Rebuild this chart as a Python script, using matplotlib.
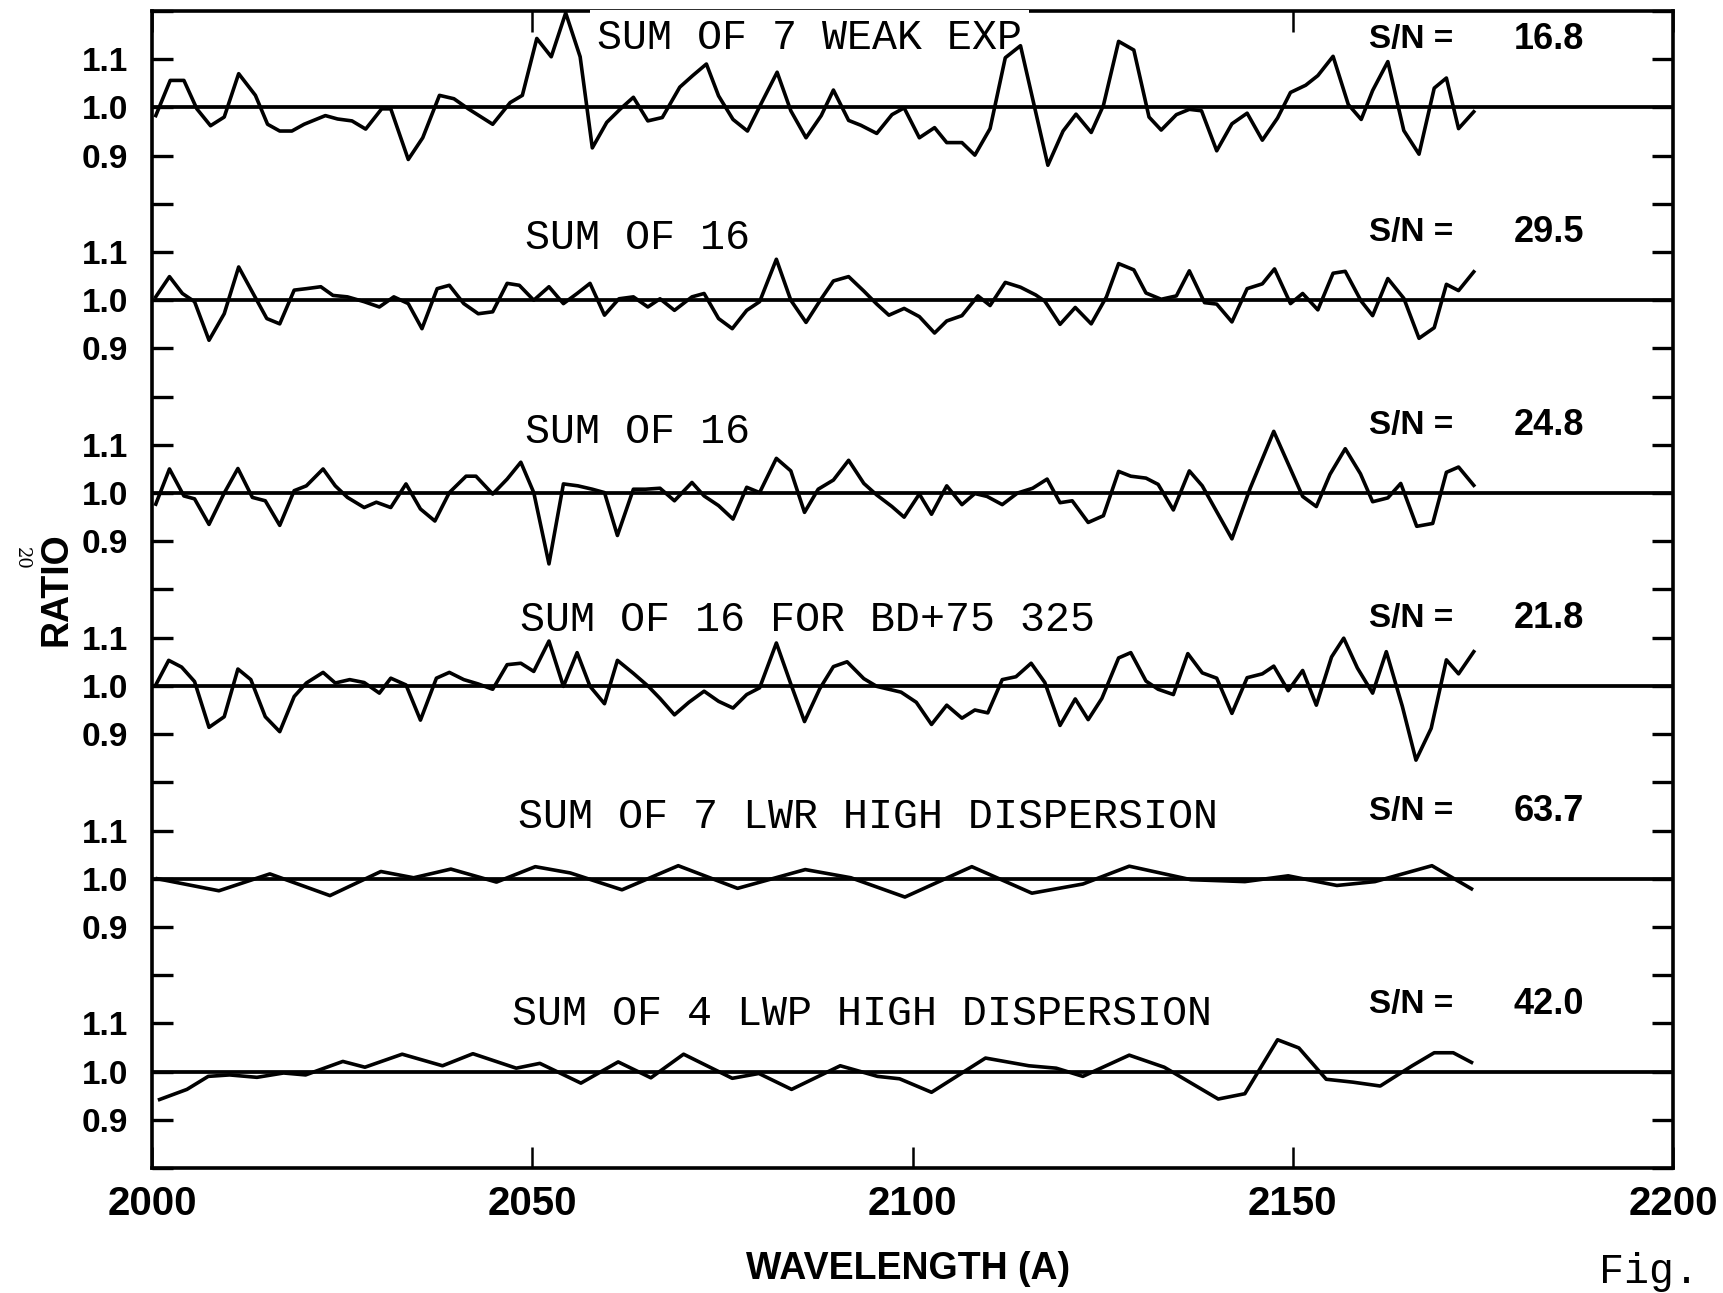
import matplotlib.pyplot as plt
import numpy as np

# six co-added spectra, top panel first; ratio values
WL_1 = [2000.5, 2002.4, 2004.2, 2005.9, 2007.7, 2009.5, 2011.4, 2013.6, 2015.2, 2016.8,
        2018.4, 2020.0, 2022.8, 2024.4, 2026.3, 2028.1, 2030.2, 2031.4, 2033.7, 2035.6,
        2037.8, 2039.7, 2041.6, 2044.8, 2047.1, 2048.7, 2050.6, 2052.5, 2054.4, 2056.3,
        2057.9, 2059.8, 2061.6, 2063.3, 2065.2, 2067.1, 2069.4, 2071.1, 2072.9, 2074.5,
        2076.4, 2078.3, 2080.1, 2082.2, 2084.0, 2086.0, 2088.0, 2089.6, 2091.6, 2093.2,
        2095.3, 2097.3, 2098.9, 2100.9, 2102.9, 2104.5, 2106.5, 2108.2, 2110.2, 2112.2,
        2114.2, 2117.8, 2119.8, 2121.5, 2123.5, 2125.1, 2127.1, 2129.1, 2131.1, 2132.7,
        2134.7, 2136.4, 2138.0, 2140.0, 2142.0, 2144.0, 2146.0, 2148.0, 2149.7, 2151.7,
        2153.3, 2155.3, 2157.3, 2159.0, 2160.5, 2162.5, 2164.6, 2166.6, 2168.6, 2170.2,
        2171.8, 2173.8]
RATIO_1 = [0.983, 1.056, 1.056, 0.997, 0.962, 0.980, 1.070, 1.025, 0.965, 0.951,
           0.951, 0.965, 0.983, 0.976, 0.972, 0.955, 0.997, 0.997, 0.892, 0.937,
           1.025, 1.018, 0.997, 0.965, 1.010, 1.025, 1.143, 1.105, 1.196, 1.105,
           0.916, 0.969, 0.997, 1.021, 0.972, 0.979, 1.042, 1.066, 1.090, 1.024,
           0.975, 0.951, 1.008, 1.073, 0.993, 0.937, 0.983, 1.036, 0.973, 0.963,
           0.946, 0.985, 0.999, 0.937, 0.958, 0.927, 0.927, 0.901, 0.956, 1.103,
           1.128, 0.880, 0.951, 0.986, 0.948, 1.004, 1.137, 1.119, 0.980, 0.953,
           0.985, 0.996, 0.993, 0.910, 0.966, 0.988, 0.932, 0.978, 1.031, 1.046,
           1.066, 1.106, 1.006, 0.975, 1.035, 1.095, 0.952, 0.903, 1.040, 1.061,
           0.956, 0.991]

WL_2 = [2000.5, 2002.3, 2004.0, 2005.6, 2007.5, 2009.5, 2011.4, 2013.3, 2015.1, 2016.8,
        2018.7, 2020.3, 2022.2, 2023.8, 2025.7, 2027.9, 2029.9, 2031.8, 2033.7, 2035.5,
        2037.5, 2039.1, 2041.0, 2042.9, 2044.8, 2046.7, 2048.3, 2050.2, 2052.2, 2054.1,
        2055.9, 2057.6, 2059.5, 2061.4, 2063.3, 2065.2, 2066.8, 2068.7, 2071.0, 2072.6,
        2074.5, 2076.3, 2078.2, 2079.9, 2082.1, 2084.0, 2086.0, 2088.0, 2089.6, 2091.6,
        2093.6, 2095.3, 2096.9, 2098.9, 2100.9, 2102.9, 2104.5, 2106.5, 2108.6, 2110.2,
        2112.2, 2114.2, 2116.2, 2117.4, 2119.4, 2121.4, 2123.5, 2125.5, 2127.1, 2129.1,
        2130.7, 2132.7, 2134.7, 2136.4, 2138.4, 2140.0, 2142.0, 2144.0, 2146.0, 2147.6,
        2149.7, 2151.3, 2153.3, 2155.3, 2156.9, 2159.0, 2160.5, 2162.5, 2164.6, 2166.6,
        2168.6, 2170.2, 2171.8, 2173.8]
RATIO_2 = [1.007, 1.049, 1.014, 0.997, 0.917, 0.972, 1.069, 1.014, 0.962, 0.951,
           1.021, 1.024, 1.028, 1.010, 1.007, 0.997, 0.986, 1.007, 0.993, 0.941,
           1.024, 1.031, 0.993, 0.972, 0.976, 1.035, 1.031, 1.000, 1.028, 0.993,
           1.014, 1.035, 0.969, 1.003, 1.007, 0.986, 1.003, 0.979, 1.007, 1.014,
           0.962, 0.941, 0.979, 0.997, 1.085, 1.000, 0.954, 1.003, 1.040, 1.049,
           1.019, 0.992, 0.969, 0.983, 0.966, 0.932, 0.957, 0.968, 1.009, 0.989,
           1.037, 1.027, 1.011, 0.998, 0.950, 0.985, 0.951, 1.007, 1.076, 1.063,
           1.015, 1.002, 1.009, 1.061, 0.995, 0.992, 0.955, 1.024, 1.034, 1.065,
           0.993, 1.014, 0.980, 1.056, 1.060, 0.998, 0.968, 1.045, 1.004, 0.921,
           0.943, 1.033, 1.020, 1.059]

WL_3 = [2000.5, 2002.3, 2004.2, 2005.6, 2007.5, 2009.5, 2011.3, 2013.2, 2014.9, 2016.8,
        2018.7, 2020.3, 2022.5, 2024.1, 2025.7, 2027.9, 2029.5, 2031.4, 2033.4, 2035.3,
        2037.2, 2039.1, 2041.3, 2042.6, 2044.8, 2046.7, 2048.5, 2050.2, 2052.2, 2054.1,
        2056.0, 2057.9, 2059.5, 2061.2, 2063.3, 2064.9, 2066.8, 2068.7, 2071.0, 2072.6,
        2074.5, 2076.4, 2078.2, 2079.9, 2082.1, 2084.0, 2085.8, 2087.6, 2089.6, 2091.6,
        2093.6, 2095.3, 2097.3, 2098.9, 2100.9, 2102.5, 2104.5, 2106.5, 2108.2, 2109.8,
        2111.8, 2113.8, 2115.8, 2117.7, 2119.4, 2121.0, 2123.1, 2125.1, 2127.1, 2128.7,
        2130.7, 2132.3, 2134.3, 2136.4, 2138.1, 2142.0, 2144.4, 2147.5, 2151.3, 2153.1,
        2154.9, 2156.9, 2158.9, 2160.5, 2162.5, 2164.2, 2166.3, 2168.4, 2170.2, 2171.8,
        2173.8]
RATIO_3 = [0.977, 1.050, 0.994, 0.988, 0.935, 1.000, 1.051, 0.991, 0.984, 0.933,
           1.005, 1.015, 1.050, 1.015, 0.991, 0.970, 0.981, 0.970, 1.019, 0.967,
           0.942, 1.001, 1.035, 1.035, 0.998, 1.029, 1.064, 1.001, 0.853, 1.019,
           1.015, 1.008, 1.001, 0.912, 1.008, 1.008, 1.010, 0.984, 1.022, 0.994,
           0.974, 0.946, 1.012, 1.001, 1.072, 1.046, 0.960, 1.008, 1.027, 1.068,
           1.020, 0.996, 0.972, 0.950, 0.998, 0.956, 1.015, 0.976, 0.999, 0.993,
           0.976, 1.000, 1.010, 1.029, 0.980, 0.984, 0.939, 0.953, 1.045, 1.035,
           1.031, 1.018, 0.965, 1.046, 1.015, 0.905, 1.010, 1.128, 0.993, 0.972,
           1.039, 1.092, 1.040, 0.982, 0.990, 1.020, 0.931, 0.937, 1.043, 1.054,
           1.016]

WL_4 = [2000.5, 2002.2, 2003.9, 2005.6, 2007.5, 2009.5, 2011.3, 2013.0, 2014.9, 2016.8,
        2018.7, 2020.3, 2022.5, 2024.1, 2026.0, 2027.9, 2029.9, 2031.4, 2033.4, 2035.3,
        2037.4, 2039.1, 2041.0, 2042.9, 2044.8, 2046.7, 2048.5, 2050.2, 2052.2, 2054.1,
        2055.9, 2057.6, 2059.5, 2061.2, 2063.3, 2065.2, 2066.8, 2068.7, 2070.6, 2072.6,
        2074.5, 2076.4, 2078.2, 2079.9, 2082.1, 2084.0, 2085.8, 2087.8, 2089.6, 2091.4,
        2093.6, 2095.3, 2098.5, 2100.5, 2102.5, 2104.5, 2106.5, 2108.2, 2109.9, 2111.8,
        2113.6, 2115.6, 2117.4, 2119.4, 2121.4, 2123.1, 2124.9, 2127.1, 2128.7, 2130.7,
        2132.3, 2134.3, 2136.2, 2138.1, 2140.0, 2142.0, 2144.0, 2146.0, 2147.5, 2149.4,
        2151.3, 2153.1, 2155.1, 2156.7, 2158.5, 2160.5, 2162.3, 2164.4, 2166.2, 2168.2,
        2170.2, 2171.8, 2173.8]
RATIO_4 = [1.002, 1.053, 1.039, 1.009, 0.914, 0.936, 1.035, 1.013, 0.936, 0.905,
           0.978, 1.006, 1.028, 1.006, 1.013, 1.007, 0.985, 1.016, 1.002, 0.929,
           1.016, 1.028, 1.013, 1.004, 0.993, 1.044, 1.047, 1.030, 1.093, 0.999,
           1.069, 0.999, 0.963, 1.053, 1.026, 1.000, 0.974, 0.940, 0.966, 0.989,
           0.968, 0.954, 0.982, 0.996, 1.089, 1.004, 0.926, 0.994, 1.040, 1.050,
           1.015, 0.999, 0.987, 0.966, 0.920, 0.960, 0.933, 0.950, 0.944, 1.013,
           1.019, 1.047, 1.007, 0.918, 0.973, 0.930, 0.974, 1.058, 1.069, 1.010,
           0.993, 0.982, 1.067, 1.027, 1.016, 0.943, 1.017, 1.025, 1.041, 0.990,
           1.032, 0.960, 1.060, 1.099, 1.037, 0.985, 1.071, 0.958, 0.846, 0.912,
           1.054, 1.025, 1.071]

WL_5 = [2000.7, 2008.8, 2015.5, 2023.4, 2030.1, 2034.4, 2039.3, 2045.3, 2050.4, 2055.0,
        2061.8, 2069.2, 2077.0, 2085.9, 2091.9, 2099.0, 2107.8, 2115.7, 2122.4, 2128.5,
        2136.6, 2143.7, 2149.4, 2155.8, 2160.8, 2168.3, 2173.5]
RATIO_5 = [1.000, 0.975, 1.010, 0.965, 1.015, 1.002, 1.020, 0.993, 1.025, 1.012,
           0.977, 1.027, 0.980, 1.019, 1.002, 0.962, 1.025, 0.970, 0.989, 1.026,
           0.998, 0.994, 1.006, 0.986, 0.994, 1.027, 0.979]

WL_6 = [2001.0, 2004.6, 2007.4, 2010.2, 2013.8, 2017.3, 2020.2, 2025.1, 2028.0, 2032.9,
        2038.2, 2042.2, 2047.9, 2051.0, 2056.4, 2061.3, 2065.6, 2069.9, 2076.3, 2079.8,
        2084.1, 2090.5, 2095.4, 2098.3, 2102.5, 2109.6, 2115.3, 2118.9, 2122.4, 2128.5,
        2133.1, 2140.2, 2143.7, 2148.0, 2150.8, 2154.4, 2157.9, 2161.5, 2165.7, 2168.6,
        2171.1, 2173.5]
RATIO_6 = [0.942, 0.963, 0.990, 0.993, 0.988, 0.997, 0.993, 1.021, 1.009, 1.036,
           1.012, 1.037, 1.007, 1.017, 0.976, 1.020, 0.987, 1.036, 0.986, 0.996,
           0.963, 1.012, 0.990, 0.985, 0.957, 1.028, 1.012, 1.007, 0.990, 1.034,
           1.009, 0.943, 0.954, 1.066, 1.049, 0.984, 0.978, 0.970, 1.012, 1.039,
           1.039, 1.019]

TITLES = ['SUM OF 7 WEAK EXP', 'SUM OF 16', 'SUM OF 16', 'SUM OF 16 FOR BD+75 325',
          'SUM OF 7 LWR HIGH DISPERSION', 'SUM OF 4 LWP HIGH DISPERSION']
SN_VALUES = ['16.8', '29.5', '24.8', '21.8', '63.7', '42.0']

# layout of the labels (not data)
TITLE_X = [2058.5, 2049.1, 2049.1, 2048.4, 2048.1, 2047.3]
TITLE_DY = [0.145, 0.130, 0.127, 0.136, 0.127, 0.120]
STEP = 0.4

series = [(WL_1, RATIO_1), (WL_2, RATIO_2), (WL_3, RATIO_3),
          (WL_4, RATIO_4), (WL_5, RATIO_5), (WL_6, RATIO_6)]

fig = plt.figure(figsize=(17.23, 12.93), dpi=100)
ax = fig.add_axes([0.0882, 0.0967, 0.8828, 0.8948])

n = len(series)
for i, (wl, ratio) in enumerate(series):
    shift = STEP * (n - 1 - i)
    ax.plot(wl, np.array(ratio) + shift, color='black', lw=2.6, zorder=3)
    ax.axhline(1.0 + shift, color='black', lw=2.7, zorder=3)
    ax.text(TITLE_X[i], 1.0 + shift + TITLE_DY[i], TITLES[i], family='Liberation Mono',
            fontsize=30, ha='left', va='center', zorder=2.6,
            bbox=dict(facecolor='white', edgecolor='none', pad=5))
    ax.text(2160.0, 1.14 + shift, 'S/N =', family='Liberation Sans', weight='bold',
            fontsize=24, ha='left', va='center', zorder=2.6)
    ax.text(2179.0, 1.14 + shift, SN_VALUES[i], family='Liberation Sans', weight='bold',
            fontsize=26, ha='left', va='center', zorder=2.6)

ax.set_xlim(2000, 2200)
ax.set_ylim(0.8, 3.2)

ax.set_xticks([2000, 2050, 2100, 2150, 2200])
ax.set_xticklabels(['2000', '2050', '2100', '2150', '2200'],
                   family='Liberation Sans', weight='bold', fontsize=29)
ax.tick_params(axis='x', direction='in', length=15, width=1.8, top=True, pad=12)

yticks = np.round(np.arange(0.8, 3.2001, 0.1), 2)
ylabels = []
for t in yticks:
    k = int(np.floor((t - 0.85) / STEP + 1e-9))
    local = t - STEP * k
    ylabels.append('%.1f' % local if 0.85 < local < 1.15 else '')
ax.set_yticks(yticks)
ax.set_yticklabels(ylabels, family='Liberation Sans', weight='bold', fontsize=24)
ax.tick_params(axis='y', direction='in', length=15, width=2.4, right=True, pad=17)

for sp in ax.spines.values():
    sp.set_linewidth(2.6)

fig.text(0.033, 0.544, 'RATIO', rotation=90, ha='center', va='center',
         family='Liberation Sans', weight='bold', fontsize=27)
fig.text(0.0128, 0.568, '20', rotation=-90, ha='center', va='center',
         family='DejaVu Serif', fontsize=13)
fig.text(0.527, 0.0186, 'WAVELENGTH (A)', ha='center', va='center',
         family='Liberation Sans', weight='bold', fontsize=27)
fig.text(0.928, 0.016, 'Fig.', ha='left', va='center', family='Liberation Mono', fontsize=30)

fig.savefig('out.png', dpi=100)
